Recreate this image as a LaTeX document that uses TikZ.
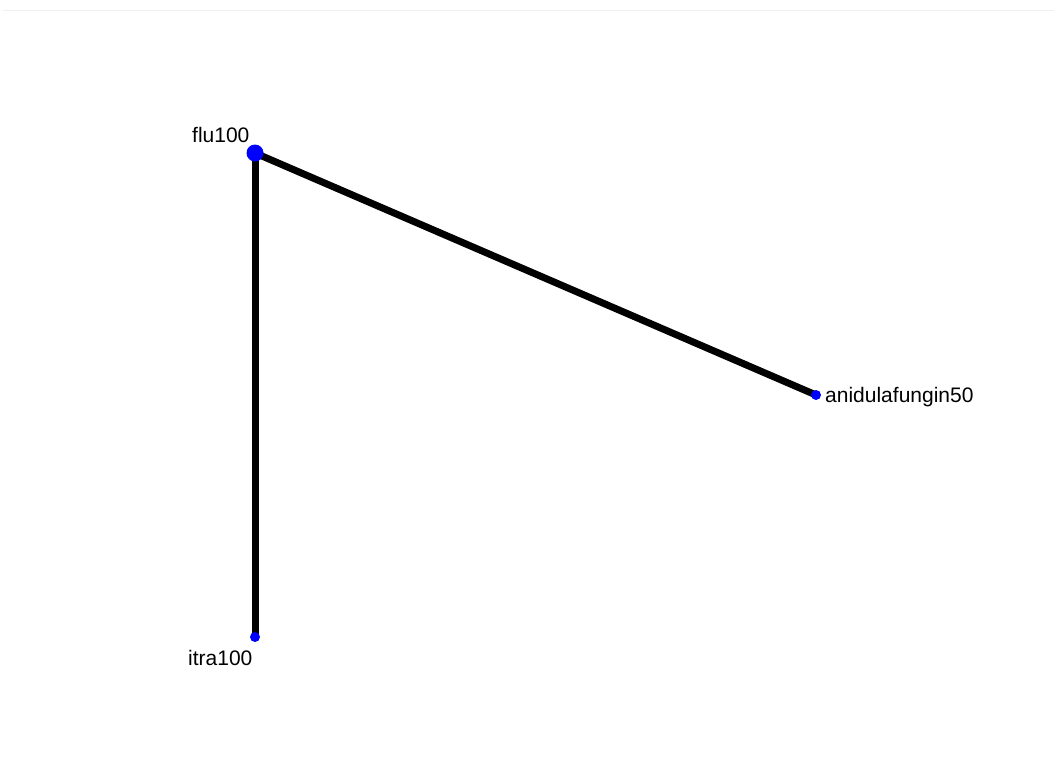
\documentclass[tikz,border=0pt]{standalone}
\usepackage{fontspec}
\setmainfont{Liberation Sans}
\begin{document}
\begin{tikzpicture}[x=1pt,y=-1pt,
  vert/.style={circle,fill=blue,draw=none,inner sep=0pt},
  big/.style={vert,minimum size=17pt},
  small/.style={vert,minimum size=10pt},
  edge/.style={line width=7pt,black},
  lbl/.style={inner sep=0pt,font=\fontsize{21}{25}\selectfont}]
\useasboundingbox (0,0) rectangle (1054,774);
\draw[black!6,line width=0.8pt] (3,10) -- (1054,10);
\coordinate (flu) at (255,153);
\coordinate (anid) at (816,395);
\coordinate (itra) at (255,637);
\draw[edge] (flu) -- (anid);
\draw[edge] (flu) -- (itra);
\node[big] (fluN) at (flu) {};
\node[small] (anidN) at (anid) {};
\node[small] (itraN) at (itra) {};
\node[lbl,anchor=base west] (fluL) at (192,142) {flu100};
\node[lbl,anchor=base west] (anidL) at (825,402) {anidulafungin50};
\node[lbl,anchor=base west] (itraL) at (188,665) {itra100};
\end{tikzpicture}
\end{document}
